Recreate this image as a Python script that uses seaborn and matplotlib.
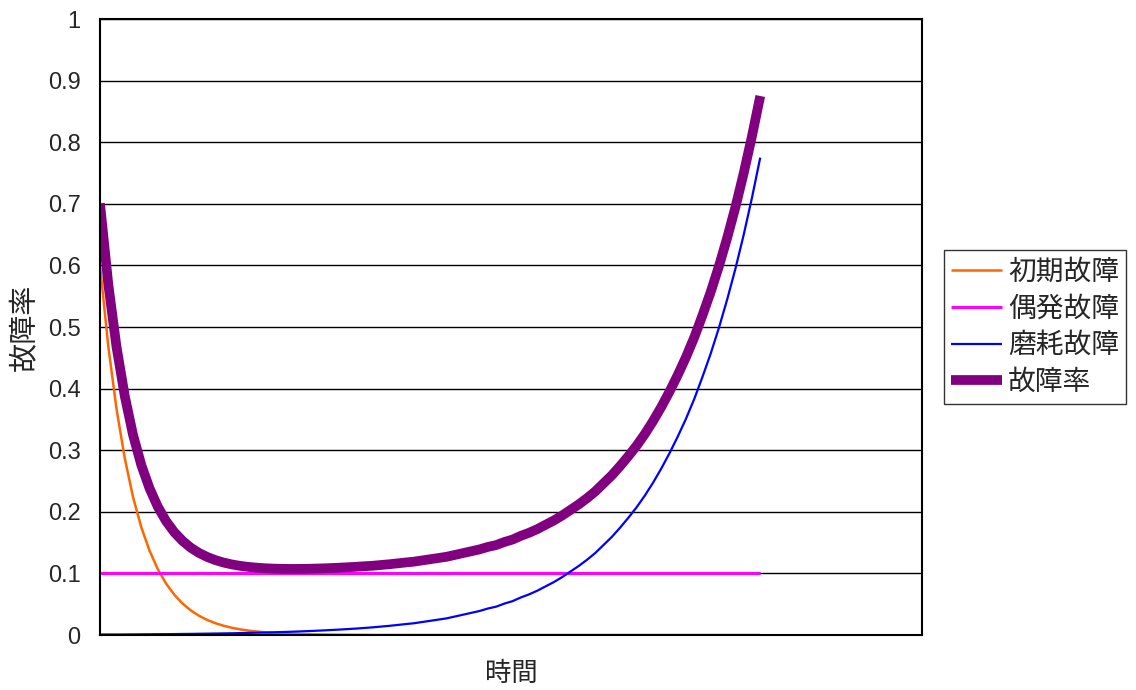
import numpy as np
import pandas as pd
import matplotlib
matplotlib.use("Agg")
import matplotlib.pyplot as plt
import seaborn as sns

# Bathtub curve: failure rate components over time (81 time steps)
time_steps = list(range(81))

initial_failure = [0.600, 0.469, 0.367, 0.287, 0.224, 0.175, 0.137, 0.107, 0.0836, 0.0654,
                   0.0511, 0.0399, 0.0312, 0.0244, 0.0191, 0.0149, 0.0117, 0.0091, 0.0071, 0.0056,
                   0.0044, 0.0034, 0.0027, 0.0021, 0.0016, 0.0013, 0.0010, 0.0008, 0.0006, 0.0005,
                   0.0004, 0.0003, 0.0002] + [0.0] * 48

random_failure = [0.1] * 81

wearout_failure = [0.0007, 0.0008, 0.0008, 0.0009, 0.0010, 0.0011, 0.0012, 0.0013, 0.0014, 0.0015,
                   0.0017, 0.0018, 0.0020, 0.0022, 0.0024, 0.0026, 0.0028, 0.0031, 0.0034, 0.0037,
                   0.0040, 0.0044, 0.0048, 0.0052, 0.0057, 0.0062, 0.0068, 0.0074, 0.0081, 0.0088,
                   0.0096, 0.0104, 0.0114, 0.0124, 0.0136, 0.0148, 0.0162, 0.0177, 0.019, 0.021,
                   0.023, 0.025, 0.027, 0.030, 0.033, 0.036, 0.039, 0.043, 0.046, 0.051,
                   0.055, 0.061, 0.066, 0.072, 0.079, 0.086, 0.094, 0.103, 0.112, 0.122,
                   0.133, 0.146, 0.159, 0.174, 0.190, 0.207, 0.226, 0.247, 0.270, 0.295,
                   0.322, 0.351, 0.383, 0.419, 0.457, 0.499, 0.545, 0.595, 0.650, 0.710,
                   0.775]

failure_rate = [0.7007, 0.5698, 0.4678, 0.3879, 0.3250, 0.2761, 0.2382, 0.2083, 0.1850, 0.1669,
                0.1528, 0.1417, 0.1332, 0.1266, 0.1215, 0.1175, 0.1145, 0.1122, 0.1105, 0.1093,
                0.1084, 0.1078, 0.1075, 0.1073, 0.1073, 0.1075, 0.1078, 0.1082, 0.1087, 0.1093,
                0.1100, 0.1107, 0.1116, 0.1124, 0.1136, 0.1148, 0.1162, 0.1177, 0.119, 0.121,
                0.123, 0.125, 0.127, 0.130, 0.133, 0.136, 0.139, 0.143, 0.146, 0.151,
                0.155, 0.161, 0.166, 0.172, 0.179, 0.186, 0.194, 0.203, 0.212, 0.222,
                0.233, 0.246, 0.259, 0.274, 0.290, 0.307, 0.326, 0.347, 0.370, 0.395,
                0.422, 0.451, 0.483, 0.519, 0.557, 0.599, 0.645, 0.695, 0.750, 0.810,
                0.875]

series_names = ["初期故障", "偶発故障", "磨耗故障", "故障率"]
series_values = [initial_failure, random_failure, wearout_failure, failure_rate]
series_colors = ["#FF6600", "#FF00FF", "#0000FF", "#800080"]
series_widths = [1.8, 2.2, 1.6, 7.0]

y_tick_values = [0, 0.1, 0.2, 0.3, 0.4, 0.5, 0.6, 0.7, 0.8, 0.9, 1]
y_tick_labels = ["0", "0.1", "0.2", "0.3", "0.4", "0.5", "0.6", "0.7", "0.8", "0.9", "1"]

sns.set_style("white")
plt.rcParams["font.family"] = ["Liberation Sans", "Noto Sans CJK JP", "DejaVu Sans"]
cjk = ["Noto Sans CJK JP", "DejaVu Sans"]

fig = plt.figure(figsize=(11.36, 6.90), dpi=100)
ax = fig.add_axes([100 / 1136, 1 - 635 / 690, 822 / 1136, 616 / 690])

for name, vals, col, lw in zip(series_names, series_values, series_colors, series_widths):
    df = pd.DataFrame({"t": time_steps, "v": vals})
    sns.lineplot(data=df, x="t", y="v", ax=ax, color=col, linewidth=lw,
                 label=name, legend=False, solid_capstyle="butt")

ax.set_xlim(0, 99.6)
ax.set_ylim(0, 1)
ax.set_yticks(y_tick_values)
ax.set_yticklabels(y_tick_labels)
ax.set_xticks([])
ax.tick_params(axis="y", length=0, pad=14, labelsize=17)
ax.yaxis.grid(True, color="black", linewidth=1.0)
ax.set_axisbelow(True)
for sp in ax.spines.values():
    sp.set_color("black")
    sp.set_linewidth(1.5)
    sp.set_visible(True)

ax.set_xlabel("時間", family=cjk, fontsize=19)
ax.xaxis.set_label_coords(0.5, -0.040)
ax.set_ylabel("故障率", family=cjk, fontsize=21)
ax.yaxis.set_label_coords(-0.0735, 0.5)

handles, labels = ax.get_legend_handles_labels()
leg = fig.legend(handles, labels, loc="upper left",
                 bbox_to_anchor=(944 / 1136, 1 - 250 / 690),
                 prop={"family": cjk, "size": 20},
                 frameon=True, fancybox=False, shadow=False,
                 borderaxespad=0, borderpad=0.25, handlelength=1.84,
                 handletextpad=0.22, labelspacing=0.24)
leg.get_frame().set_edgecolor("black")
leg.get_frame().set_linewidth(1.0)

fig.savefig("out.png", dpi=100)
